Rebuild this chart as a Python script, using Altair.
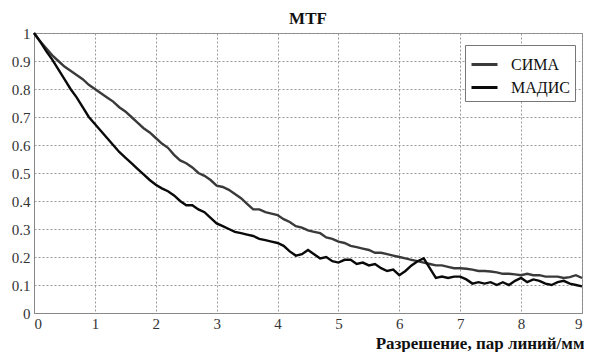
import altair as alt
import pandas as pd

x_vals = [round(i * 0.1, 1) for i in range(91)]

sima = [1.00, 0.97, 0.945, 0.92, 0.90, 0.88, 0.865, 0.85, 0.835, 0.815,
        0.80, 0.785, 0.77, 0.755, 0.735, 0.72, 0.70, 0.68, 0.66, 0.645,
        0.625, 0.605, 0.59, 0.565, 0.545, 0.535, 0.52, 0.50, 0.49, 0.475,
        0.455, 0.45, 0.44, 0.425, 0.41, 0.39, 0.37, 0.37, 0.36, 0.355,
        0.35, 0.335, 0.325, 0.31, 0.305, 0.295, 0.29, 0.285, 0.27, 0.265,
        0.255, 0.25, 0.24, 0.235, 0.23, 0.225, 0.215, 0.215, 0.21, 0.205,
        0.20, 0.195, 0.19, 0.185, 0.18, 0.175, 0.17, 0.17, 0.165, 0.16,
        0.16, 0.158, 0.155, 0.15, 0.15, 0.148, 0.145, 0.14, 0.14, 0.138,
        0.135, 0.14, 0.135, 0.135, 0.13, 0.13, 0.13, 0.125, 0.128, 0.135,
        0.125]

madis = [1.00, 0.97, 0.935, 0.905, 0.87, 0.835, 0.80, 0.77, 0.735, 0.70,
         0.675, 0.65, 0.625, 0.60, 0.575, 0.555, 0.535, 0.515, 0.495, 0.475,
         0.458, 0.445, 0.435, 0.42, 0.40, 0.385, 0.385, 0.37, 0.36, 0.34,
         0.32, 0.31, 0.30, 0.29, 0.285, 0.28, 0.275, 0.265, 0.26, 0.255,
         0.25, 0.24, 0.22, 0.205, 0.21, 0.225, 0.21, 0.195, 0.20, 0.185,
         0.18, 0.19, 0.19, 0.175, 0.18, 0.17, 0.175, 0.16, 0.15, 0.155,
         0.135, 0.15, 0.17, 0.185, 0.195, 0.16, 0.125, 0.13, 0.125, 0.13,
         0.13, 0.12, 0.105, 0.11, 0.105, 0.11, 0.10, 0.11, 0.10, 0.115,
         0.125, 0.11, 0.12, 0.115, 0.105, 0.10, 0.11, 0.115, 0.105, 0.10,
         0.095]

series_names = ["СИМА", "МАДИС"]
series_colors = ["#3a3a3a", "#0a0a0a"]

rows = []
for name, vals in zip(series_names, [sima, madis]):
    for xv, yv in zip(x_vals, vals):
        rows.append({"x": xv, "y": yv, "series": name})
df = pd.DataFrame(rows)

FONT = "Liberation Serif"

chart = alt.Chart(df).mark_line(strokeWidth=2.4, interpolate="linear").encode(
    x=alt.X("x:Q",
            scale=alt.Scale(domain=[0, 9], nice=False),
            axis=alt.Axis(values=list(range(10)), format="d",
                          title="Разрешение, пар линий/мм",
                          titleAnchor="end", titleAlign="right",
                          titleFont=FONT, titleFontSize=17, titleFontWeight="bold",
                          titleColor="#111", titleY=35, titleX=550,
                          titleBaseline="alphabetic",
                          labelFont=FONT, labelFontSize=15, labelColor="#333",
                          labelPadding=3, ticks=False,
                          gridDash=[2, 2], gridColor="#999", gridWidth=1,
                          domainColor="#888")),
    y=alt.Y("y:Q",
            scale=alt.Scale(domain=[0, 1], nice=False),
            axis=alt.Axis(values=[i / 10 for i in range(11)],
                          labelExpr="datum.value == 0 ? '0' : datum.value == 1 ? '1' : format(datum.value, '.1f')",
                          title=None,
                          labelFont=FONT, labelFontSize=15, labelColor="#333",
                          labelPadding=4, ticks=False,
                          gridDash=[2, 2], gridColor="#999", gridWidth=1,
                          domainColor="#888")),
    color=alt.Color("series:N",
                    scale=alt.Scale(domain=series_names, range=series_colors),
                    sort=series_names,
                    legend=alt.Legend(title=None, orient="none",
                                      legendX=431, legendY=12,
                                      symbolType="stroke", symbolSize=676,
                                      symbolStrokeWidth=3,
                                      labelFont=FONT, labelFontSize=16,
                                      labelColor="#111",
                                      strokeColor="#777", fillColor="white",
                                      padding=5, rowPadding=0,
                                      labelOffset=12)),
).properties(
    width=548,
    height=280,
    title=alt.Title("MTF", font=FONT, fontSize=17, fontWeight="bold",
                    color="#111", anchor="middle", offset=-2),
    autosize=alt.AutoSizeParams(type="none"),
    padding={"left": 26, "top": 25, "right": 2, "bottom": 39},
).configure_view(stroke="#888", strokeWidth=1)

chart.save("out.html", embed_options={"renderer": "svg", "actions": False})
